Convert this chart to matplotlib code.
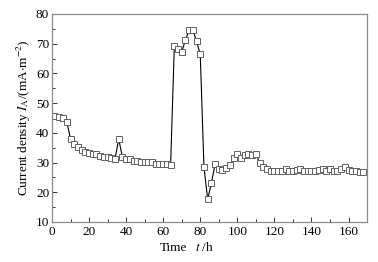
import matplotlib
matplotlib.use('Agg')
import matplotlib.pyplot as plt
from matplotlib.ticker import MultipleLocator

# time (h) and current density (mA m^-2)
t = [1, 4, 6, 8, 10, 12, 14, 16, 18, 20, 22, 24, 26, 28, 30, 32, 34, 36, 38, 40,
     42, 44, 46, 48, 50, 52, 54, 56, 58, 60, 62, 64, 66, 68, 70, 72, 74, 76, 78, 80,
     82, 84, 86, 88, 90, 92, 94, 96, 98, 100, 102, 104, 106, 108, 110, 112, 114, 116, 118, 120,
     122, 124, 126, 128, 130, 132, 134, 136, 138, 140, 142, 144, 146, 148, 150, 152, 154, 156, 158, 160,
     162, 164, 166, 168]
current = [45.7, 45.2, 45.1, 43.7, 37.9, 36.2, 35.1, 34.1, 33.4, 33.3, 32.8, 32.8, 32.2, 31.8, 31.8, 31.6, 31.2, 37.9, 31.8, 31.2,
           31.1, 30.6, 30.6, 30.1, 30.1, 30.1, 30.1, 29.5, 29.5, 29.5, 29.5, 29.1, 69.2, 68.1, 67.3, 71.2, 74.6, 74.6, 70.8, 66.4,
           28.4, 17.7, 23.0, 29.5, 27.7, 27.5, 28.3, 29.1, 31.6, 32.8, 31.7, 32.4, 32.8, 32.4, 32.9, 30.0, 28.4, 27.7, 27.3, 27.3,
           27.3, 27.3, 27.8, 27.3, 27.0, 27.5, 27.8, 27.3, 27.0, 27.0, 27.0, 27.5, 27.8, 27.3, 27.8, 27.2, 27.3, 28.0, 28.5, 27.5,
           27.3, 27.3, 26.7, 26.7]

plt.rcParams['font.family'] = ['Liberation Serif', 'DejaVu Serif']
plt.rcParams['mathtext.fontset'] = 'stix'
FONTSIZE = 9.5
FRAME = '#8a8a8a'

fig = plt.figure(figsize=(3.78, 2.62), dpi=100)
ax = fig.add_axes([0.1376, 0.1527, 0.8334, 0.7939])

ax.plot(t, current, color='black', lw=0.8,
        marker='s', markersize=4.0, markerfacecolor='white',
        markeredgecolor='#606060', markeredgewidth=0.7)

ax.set_xlim(0, 170)
ax.set_ylim(10, 80)
ax.xaxis.set_major_locator(MultipleLocator(20))
ax.xaxis.set_minor_locator(MultipleLocator(10))
ax.yaxis.set_major_locator(MultipleLocator(10))
ax.yaxis.set_minor_locator(MultipleLocator(5))
ax.tick_params(which='both', direction='in', labelsize=FONTSIZE, color='#333333', width=0.7)
ax.tick_params(which='major', length=3.5, pad=2)
ax.tick_params(which='minor', length=2)
ax.tick_params(axis='x', pad=3)

for sp in ax.spines.values():
    sp.set_color(FRAME)
    sp.set_linewidth(0.9)

ax.set_ylabel('Current density $\\it{I}_{\\rm A}$/(mA$\\cdot$m$^{-2}$)', fontsize=FONTSIZE, labelpad=2)
fig.text(0.423, 0.055, 'Time', fontsize=FONTSIZE, ha='left', va='center')
fig.text(0.515, 0.055, '$\\it{t}$ /h', fontsize=FONTSIZE, ha='left', va='center')

plt.savefig('out.png', dpi=100)
plt.close()
